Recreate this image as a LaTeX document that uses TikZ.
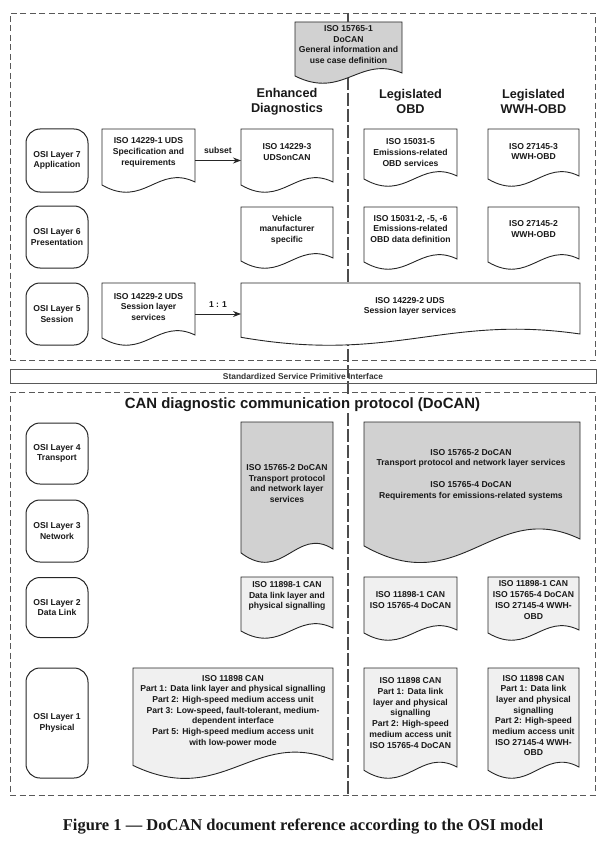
\documentclass[tikz,border=0pt]{standalone}
\usepackage{fontspec}
\setmainfont{Liberation Sans}
\newfontfamily\capfont{Liberation Serif}
\usetikzlibrary{arrows.meta}
\definecolor{docgray}{gray}{0.82}
\definecolor{docdot}{gray}{0.94}
\definecolor{lin}{gray}{0.15}
\newcommand\docshape[7]{% name, x1, ytop, x2, ybottom, amplitude, fill
  \pgfmathsetmacro\dw{#4-#2}\pgfmathsetmacro\dh{#5-#3}%
  \pgfmathsetmacro\dcx{(#2+#4)/2}\pgfmathsetmacro\dcy{(#3+#5)/2}%
  \draw[docline,fill=#7] (#2,#5-7*#6) -- (#2,#3) -- (#4,#3) -- (#4,#5-10*#6)
    .. controls (#2+0.6*\dw,#5-28*#6) and (#2+0.45*\dw,#5+17*#6) .. (#2,#5-7*#6) -- cycle;
  \node[area,minimum width=\dw pt,minimum height=\dh pt] (#1) at (\dcx,\dcy) {};}
\tikzset{
  txt/.style={font=\bfseries\fontsize{8.6}{10.7}\selectfont, align=center, inner sep=0pt, text=black!90},
  head/.style={font=\bfseries\fontsize{12.7}{15}\selectfont, align=center, inner sep=0pt, text=black!90},
  docline/.style={draw=lin, line width=0.9pt},
  area/.style={inner sep=0pt, outer sep=0pt, draw=none},
  osi/.style={txt, draw=lin, line width=1pt, rounded corners=14pt, minimum width=62pt},
  dbox/.style={draw=black!65, line width=0.8pt, dash pattern=on 6pt off 3.5pt},
  cline/.style={draw=black!70, line width=1.3pt, dash pattern=on 13pt off 3pt},
  arr/.style={draw=lin, line width=1pt, -{Stealth[length=8pt,width=6pt]}},
}
\begin{document}
\begin{tikzpicture}[x=1pt,y=-1pt]
\useasboundingbox (0,0) rectangle (613,845);
% frames
\node[area,minimum width=585pt,minimum height=347pt,dbox] (upper) at (302.5,186.5) {};
\node[area,minimum width=585pt,minimum height=403pt,dbox] (lower) at (302.5,593.5) {};
\coordinate (ctop) at (348,13);
\coordinate (cbot) at (348,795);
\draw[cline] (ctop) -- (cbot);
\node[area,draw=black!65,line width=0.8pt,minimum width=586pt,minimum height=14pt,
      font=\bfseries\fontsize{8.4}{10}\selectfont,text=black!80] (ifc) at (303,376) {Standardized Service Primitive Interface};
% top general document
\docshape{gen}{295}{22}{402}{83}{1}{docgray}
\node[txt] (gen-t) at (348.5,44.5) {ISO 15765-1\\DoCAN\\General information and\\use case definition};
% headings
\node[head] (hed) at (287,101.5) {Enhanced\\Diagnostics};
\node[head] (hobd) at (410.5,101.5) {Legislated\\OBD};
\node[head] (hwwh) at (533.5,101.5) {Legislated\\WWH-OBD};
% layer 7
\node[osi,minimum height=63pt] (l7) at (57,160.5) {OSI Layer 7\\Application};
\docshape{uds1}{102}{129}{195}{192}{1}{white}
\node[txt] (uds1-t) at (148.5,152.5) {ISO 14229-1 UDS\\Specification and\\requirements};
\docshape{uds3}{241}{129}{333}{192}{1}{white}
\node[txt] (uds3-t) at (287,152) {ISO 14229-3\\UDSonCAN};
\docshape{obd7}{364}{129}{457}{186}{1}{white}
\node[txt] (obd7-t) at (410.5,152.5) {ISO 15031-5\\Emissions-related\\OBD services};
\docshape{wwh7}{488}{129}{579}{186}{1}{white}
\node[txt] (wwh7-t) at (533.5,151.5) {ISO 27145-3\\WWH-OBD};
\draw[arr] (uds1) -- node[txt,above=6pt] (subset) {subset} (uds3);
% layer 6
\node[osi,minimum height=62pt] (l6) at (57,237) {OSI Layer 6\\Presentation};
\docshape{veh}{241}{207}{333}{268}{1}{white}
\node[txt] (veh-t) at (287,229.5) {Vehicle\\manufacturer\\specific};
\docshape{obd6}{364}{207}{457}{269}{1}{white}
\node[txt] (obd6-t) at (410.5,229) {ISO 15031-2, -5, -6\\Emissions-related\\OBD data definition};
\docshape{wwh6}{488}{207}{579}{269}{1}{white}
\node[txt] (wwh6-t) at (533.5,229) {ISO 27145-2\\WWH-OBD};
% layer 5
\node[osi,minimum height=62pt] (l5) at (57,314) {OSI Layer 5\\Session};
\docshape{uds2}{102}{283}{195}{345}{1}{white}
\node[txt] (uds2-t) at (148.5,307) {ISO 14229-2 UDS\\Session layer\\services};
\docshape{sess}{241}{283}{580}{345}{1.1}{white}
\node[txt] (sess-t) at (410,306.5) {ISO 14229-2 UDS\\Session layer services};
\draw[arr] (uds2) -- node[txt,above=6pt] (one) {1 : 1} (sess);
% lower part
\node[font=\bfseries\fontsize{14.9}{17}\selectfont,inner sep=1pt,fill=white,text=black!90] (title) at (302.5,404.5) {CAN diagnostic communication protocol (DoCAN)};
\node[osi,minimum height=61pt] (l4) at (57,453.5) {OSI Layer 4\\Transport};
\node[osi,minimum height=62pt] (l3) at (57,531) {OSI Layer 3\\Network};
\docshape{tp}{241}{422}{333}{562}{1.3}{docgray}
\node[txt] (tp-t) at (287,483.5) {ISO 15765-2 DoCAN\\Transport protocol\\and network layer\\services};
\docshape{tpl}{364}{422}{580}{562}{2.3}{docgray}
\node[txt] (tpl-t) at (471,474.5) {ISO 15765-2 DoCAN\\Transport protocol and network layer services\\[10.7pt]ISO 15765-4 DoCAN\\Requirements for emissions-related systems};
% layer 2
\node[osi,minimum height=60pt] (l2) at (57,607.5) {OSI Layer 2\\Data Link};
\docshape{dl}{241}{577}{333}{638}{1}{docdot}
\node[txt] (dl-t) at (287,596) {ISO 11898-1 CAN\\Data link layer and\\physical signalling};
\docshape{dlo}{364}{577}{457}{640}{1}{docdot}
\node[txt] (dlo-t) at (410.5,600) {ISO 11898-1 CAN\\ISO 15765-4 DoCAN};
\docshape{dlw}{488}{577}{579}{640}{1}{docdot}
\node[txt] (dlw-t) at (533.5,600) {ISO 11898-1 CAN\\ISO 15765-4 DoCAN\\ISO 27145-4 WWH-\\OBD};
% layer 1
\node[osi,minimum height=110pt] (l1) at (57,723) {OSI Layer 1\\Physical};
\docshape{ph}{133}{668}{333}{778}{1.8}{docdot}
\node[txt] (ph-t) at (233,711) {ISO 11898 CAN\\Part 1: Data link layer and physical signalling\\Part 2: High-speed medium access unit\\Part 3: Low-speed, fault-tolerant, medium-\\dependent interface\\Part 5: High-speed medium access unit\\with low-power mode};
\docshape{pho}{364}{668}{457}{778}{1.1}{docdot}
\node[txt] (pho-t) at (410.5,713) {ISO 11898 CAN\\Part 1: Data link\\layer and physical\\signalling\\Part 2: High-speed\\medium access unit\\ISO 15765-4 DoCAN};
\docshape{phw}{488}{668}{579}{778}{1.1}{docdot}
\node[txt] (phw-t) at (533.5,715.5) {ISO 11898 CAN\\Part 1: Data link\\layer and physical\\signalling\\Part 2: High-speed\\medium access unit\\ISO 27145-4 WWH-\\OBD};
% caption
\node[font=\capfont\bfseries\fontsize{16.5}{19}\selectfont,inner sep=0pt,text=black!90] (cap) at (303,827) {Figure 1 — DoCAN document reference according to the OSI model};
\end{tikzpicture}
\end{document}
